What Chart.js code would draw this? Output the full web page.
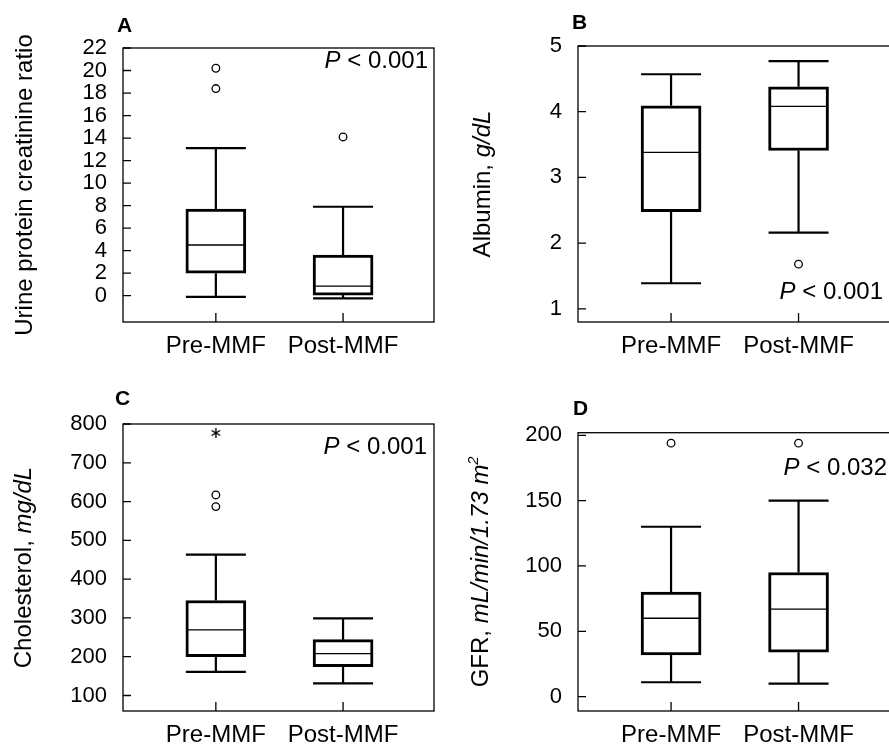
<!DOCTYPE html>
<html lang="en">
<head>
<meta charset="utf-8">
<title>MMF outcomes</title>
<script src="https://cdn.jsdelivr.net/npm/chart.js@4.4.1/dist/chart.umd.min.js"></script>
<style>
  html, body { margin: 0; background: #fff; overflow: hidden; }
  #sheet { position: relative; width: 889px; height: 745px; overflow: hidden; background: #fff; }
  #sheet canvas { position: absolute; }
</style>
</head>
<body>
<div id="sheet">
  <canvas id="panel-a" width="445" height="372" style="left:0;top:0"></canvas>
  <canvas id="panel-b" width="450" height="372" style="left:445px;top:0"></canvas>
  <canvas id="panel-c" width="445" height="373" style="left:0;top:372px"></canvas>
  <canvas id="panel-d" width="450" height="373" style="left:445px;top:372px"></canvas>
</div>
<script>
const groups = ['Pre-MMF', 'Post-MMF'];

// each box: [low whisker, Q1, median, Q3, high whisker]
const ratioBoxes = [[-0.1, 2.0, 4.5, 7.7, 13.1], [-0.25, 0.05, 0.85, 3.6, 7.9]];
const ratioOutliers = [[18.4, 20.2], [14.1]];
const ratioTicks = [0, 2, 4, 6, 8, 10, 12, 14, 16, 18, 20, 22];

const albuminBoxes = [[1.39, 2.48, 3.38, 4.09, 4.57], [2.16, 3.41, 4.08, 4.38, 4.77]];
const albuminOutliers = [[], [1.68]];
const albuminTicks = [1, 2, 3, 4, 5];

const cholBoxes = [[161, 200, 269, 345, 463], [131, 174, 208, 244, 299]];
const cholOutliers = [[587, 617], []];
const cholExtremes = [[777], []];
const cholTicks = [100, 200, 300, 400, 500, 600, 700, 800];

const gfrBoxes = [[11, 32, 60, 80, 130], [10, 34, 67, 95, 150]];
const gfrOutliers = [[194], [194]];
const gfrTicks = [0, 50, 100, 150, 200];

const FONT = '"Liberation Sans", Arial, Helvetica, sans-serif';
const CAP = 30;  // half width of whisker caps

// six-armed asterisk used for extreme values
const asterisk = document.createElement('canvas');
asterisk.width = asterisk.height = 12;
(() => {
  const c = asterisk.getContext('2d');
  c.strokeStyle = '#000';
  c.lineWidth = 1.4;
  c.beginPath();
  [90, 30, 150].forEach(deg => {
    const r = deg * Math.PI / 180, dx = Math.cos(r) * 5, dy = Math.sin(r) * 5;
    c.moveTo(6 - dx, 6 - dy);
    c.lineTo(6 + dx, 6 + dy);
  });
  c.stroke();
})();

function runsWidth(ctx, runs, size) {
  let w = 0;
  runs.forEach(r => {
    const s = r.sup ? size * 0.62 : size;
    ctx.font = (r.italic ? 'italic ' : '') + s + 'px ' + FONT;
    w += ctx.measureText(r.text).width;
  });
  return w;
}

function drawRuns(ctx, runs, size, x, y) {
  runs.forEach(r => {
    const s = r.sup ? size * 0.62 : size;
    ctx.font = (r.italic ? 'italic ' : '') + s + 'px ' + FONT;
    ctx.fillText(r.text, x, r.sup ? y - size * 0.4 : y);
    x += ctx.measureText(r.text).width;
  });
}

function boxPlotPlugin(p) {
  return {
    id: 'boxPlot',
    beforeDatasetsDraw(chart) {
      const {ctx, chartArea: a, scales: {x, y}} = chart;
      ctx.save();
      ctx.strokeStyle = '#000';
      ctx.lineWidth = 1.3;
      ctx.strokeRect(a.left, a.top, a.right - a.left, a.bottom - a.top);
      // tick marks point into the plot
      ctx.beginPath();
      y.ticks.forEach(t => {
        const py = y.getPixelForValue(t.value);
        ctx.moveTo(a.left, py);
        ctx.lineTo(a.left + 8, py);
      });
      x.ticks.forEach(t => {
        const px = x.getPixelForValue(t.value);
        ctx.moveTo(px, a.bottom);
        ctx.lineTo(px, a.bottom - 9);
      });
      ctx.stroke();
      // whiskers
      ctx.lineWidth = 2.2;
      ctx.beginPath();
      p.boxes.forEach((b, i) => {
        const px = x.getPixelForValue(i + 1);
        const [lo, q1, , q3, hi] = b.map(v => y.getPixelForValue(v));
        ctx.moveTo(px, q1); ctx.lineTo(px, lo);
        ctx.moveTo(px - CAP, lo); ctx.lineTo(px + CAP, lo);
        ctx.moveTo(px, q3); ctx.lineTo(px, hi);
        ctx.moveTo(px - CAP, hi); ctx.lineTo(px + CAP, hi);
      });
      ctx.stroke();
      ctx.restore();
    },
    afterDatasetsDraw(chart) {
      const {ctx, scales: {x, y}} = chart;
      ctx.save();
      ctx.strokeStyle = '#000';
      ctx.lineWidth = 1.3;
      ctx.beginPath();
      p.boxes.forEach((b, i) => {
        const px = x.getPixelForValue(i + 1);
        const py = y.getPixelForValue(b[2]);
        ctx.moveTo(px - CAP + 2, py);
        ctx.lineTo(px + CAP - 2, py);
      });
      ctx.stroke();
      ctx.restore();
    },
    afterDraw(chart) {
      const {ctx, chartArea: a} = chart;
      ctx.save();
      ctx.fillStyle = '#000';
      ctx.textBaseline = 'alphabetic';
      // panel letter
      ctx.font = 'bold 21px ' + FONT;
      ctx.fillText(p.letter, p.letterAt[0], p.letterAt[1]);
      // P value
      const pw = runsWidth(ctx, p.pText, 24);
      drawRuns(ctx, p.pText, 24, p.pAt[0] - pw, p.pAt[1]);
      // rotated y axis title
      const tw = runsWidth(ctx, p.title, 24);
      ctx.translate(p.titleX, (a.top + a.bottom) / 2);
      ctx.rotate(-Math.PI / 2);
      drawRuns(ctx, p.title, 24, -tw / 2, 8.6);
      ctx.restore();
    }
  };
}

function drawPanel(id, p) {
  const toPoints = lists => lists.flatMap((vals, i) => vals.map(v => ({x: i + 1, y: v})));
  const datasets = [{
    type: 'bar',
    data: p.boxes.map((b, i) => ({x: i + 1, y: [b[1], b[3]]})),
    backgroundColor: '#fff',
    borderColor: '#000',
    borderWidth: 3,
    borderSkipped: false,
    barThickness: 60
  }, {
    type: 'scatter',
    data: toPoints(p.outliers),
    pointStyle: 'circle',
    pointRadius: 3.8,
    backgroundColor: '#fff',
    borderColor: '#000',
    borderWidth: 1.3
  }];
  if (p.extremes) {
    datasets.push({
      type: 'scatter',
      data: toPoints(p.extremes),
      pointStyle: asterisk,
      pointRadius: 6
    });
  }

  new Chart(document.getElementById(id), {
    type: 'bar',
    data: {datasets},
    options: {
      responsive: false,
      animation: false,
      events: [],
      layout: {padding: p.pad},
      plugins: {legend: {display: false}, tooltip: {enabled: false}},
      scales: {
        x: {
          type: 'linear',
          min: 0.27,
          max: 2.715,
          offset: false,
          grid: {display: false, drawTicks: false},
          border: {display: false},
          afterBuildTicks: ax => { ax.ticks = groups.map((g, i) => ({value: i + 1})); },
          afterFit: ax => { ax.height = p.xHeight; },
          ticks: {
            autoSkip: false,
            maxRotation: 0,
            padding: 10,
            color: '#000',
            font: {family: FONT, size: 24},
            callback: v => groups[v - 1]
          }
        },
        y: {
          min: p.min,
          max: p.max,
          grid: {display: false, drawTicks: false},
          border: {display: false},
          afterBuildTicks: ax => { ax.ticks = p.ticks.map(v => ({value: v})); },
          afterFit: ax => { ax.width = p.yWidth; },
          ticks: {autoSkip: false, padding: 16, color: '#000', font: {family: FONT, size: 22}}
        }
      }
    },
    plugins: [boxPlotPlugin(p)]
  });
}

drawPanel('panel-a', {
  boxes: ratioBoxes, outliers: ratioOutliers, ticks: ratioTicks,
  min: -2.34, max: 22,
  pad: {top: 48, right: 11, left: 0, bottom: 0}, yWidth: 123, xHeight: 50,
  letter: 'A', letterAt: [117, 32],
  pText: [{text: 'P', italic: true}, {text: ' < 0.001'}], pAt: [428, 68],
  title: [{text: 'Urine protein creatinine ratio'}], titleX: 23
});

drawPanel('panel-b', {
  boxes: albuminBoxes, outliers: albuminOutliers, ticks: albuminTicks,
  min: 0.8, max: 5,
  pad: {top: 46, right: 4, left: 0, bottom: 0}, yWidth: 133, xHeight: 50,
  letter: 'B', letterAt: [127, 28.5],
  pText: [{text: 'P', italic: true}, {text: ' < 0.001'}], pAt: [438, 299],
  title: [{text: 'Albumin, '}, {text: 'g/dL', italic: true}], titleX: 36
});

drawPanel('panel-c', {
  boxes: cholBoxes, outliers: cholOutliers, extremes: cholExtremes, ticks: cholTicks,
  min: 60, max: 800,
  pad: {top: 52, right: 11, left: 0, bottom: 0}, yWidth: 123, xHeight: 34,
  letter: 'C', letterAt: [115, 33],
  pText: [{text: 'P', italic: true}, {text: ' < 0.001'}], pAt: [427, 82],
  title: [{text: 'Cholesterol, '}, {text: 'mg/dL', italic: true}], titleX: 22.5
});

drawPanel('panel-d', {
  boxes: gfrBoxes, outliers: gfrOutliers, ticks: gfrTicks,
  min: -11, max: 202,
  pad: {top: 60.7, right: 4, left: 0, bottom: 0}, yWidth: 133, xHeight: 34,
  letter: 'D', letterAt: [128, 43],
  pText: [{text: 'P', italic: true}, {text: ' < 0.032'}], pAt: [442, 103],
  title: [{text: 'GFR, '}, {text: 'mL/min/1.73 m', italic: true}, {text: '2', italic: true, sup: true}], titleX: 34
});
</script>
</body>
</html>
